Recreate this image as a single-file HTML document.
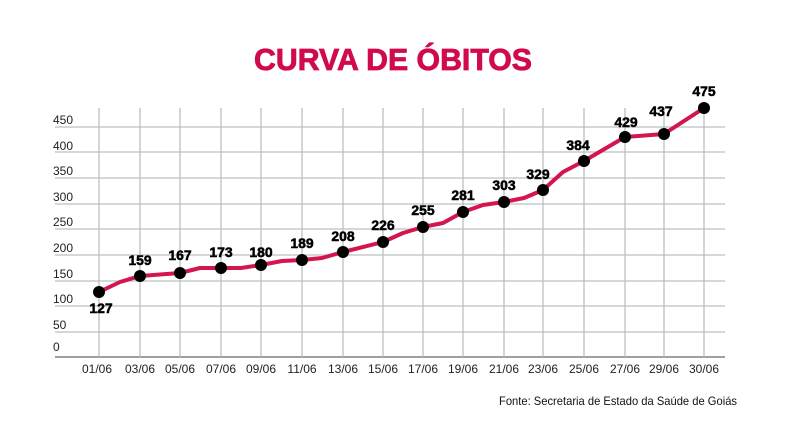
<!DOCTYPE html>
<html><head><meta charset="utf-8"><style>
html,body{margin:0;padding:0;background:#fff;width:801px;height:434px;overflow:hidden}
svg{display:block}
text{font-family:"Liberation Sans","DejaVu Sans",sans-serif}
</style></head><body>
<svg width="801" height="434" viewBox="0 0 801 434">
<text x="254" y="70" font-size="31" font-weight="bold" fill="#d10a4c" stroke="#d10a4c" stroke-width="0.8" textLength="278" lengthAdjust="spacingAndGlyphs">CURVA DE ÓBITOS</text>
<g stroke="#b9c0c0" stroke-width="1.3">
<line x1="55" x2="725" y1="127" y2="127"/><line x1="55" x2="725" y1="152" y2="152"/>
<line x1="55" x2="725" y1="178" y2="178"/><line x1="55" x2="725" y1="204" y2="204"/>
<line x1="55" x2="725" y1="229" y2="229"/><line x1="55" x2="725" y1="255" y2="255"/>
<line x1="55" x2="725" y1="281" y2="281"/><line x1="55" x2="725" y1="306" y2="306"/>
<line x1="55" x2="725" y1="332" y2="332"/>
</g>
<line x1="55" x2="725" y1="357" y2="357" stroke="#666" stroke-width="1.3"/>
<g stroke="#b9c0c0" stroke-width="1.3">
<line x1="99" x2="99" y1="108" y2="357"/><line x1="140" x2="140" y1="108" y2="357"/>
<line x1="180" x2="180" y1="108" y2="357"/><line x1="221" x2="221" y1="108" y2="357"/>
<line x1="261" x2="261" y1="108" y2="357"/><line x1="302" x2="302" y1="108" y2="357"/>
<line x1="343" x2="343" y1="108" y2="357"/><line x1="383" x2="383" y1="108" y2="357"/>
<line x1="423" x2="423" y1="108" y2="357"/><line x1="463" x2="463" y1="108" y2="357"/>
<line x1="504" x2="504" y1="108" y2="357"/><line x1="543" x2="543" y1="108" y2="357"/>
<line x1="584" x2="584" y1="108" y2="357"/><line x1="625" x2="625" y1="108" y2="357"/>
<line x1="664" x2="664" y1="108" y2="357"/><line x1="704" x2="704" y1="108" y2="357"/>
</g>
<g font-size="12" fill="#222">
<text x="53" y="124">450</text><text x="53" y="150">400</text><text x="53" y="175">350</text>
<text x="53" y="201">300</text><text x="53" y="226">250</text><text x="53" y="252">200</text>
<text x="53" y="278">150</text><text x="53" y="303">100</text><text x="53" y="329">50</text>
<text x="53" y="351">0</text>
</g>
<g font-size="12" fill="#222" text-anchor="middle">
<text x="97" y="373">01/06</text><text x="140" y="373">03/06</text><text x="180" y="373">05/06</text>
<text x="221" y="373">07/06</text><text x="261" y="373">09/06</text><text x="302" y="373">11/06</text>
<text x="343" y="373">13/06</text><text x="383" y="373">15/06</text><text x="423" y="373">17/06</text>
<text x="463" y="373">19/06</text><text x="504" y="373">21/06</text><text x="543" y="373">23/06</text>
<text x="584" y="373">25/06</text><text x="625" y="373">27/06</text><text x="664" y="373">29/06</text>
<text x="704" y="373">30/06</text>
</g>
<polyline fill="none" stroke="#d4164f" stroke-width="4" stroke-linejoin="round" stroke-linecap="round"
points="99,292 120,282 140,276 180,273 200,268 221,268 241,268 261,265 282,261 302,260 322,258 343,252 383,242 403,233 423,227 443,223 463,212 483,205 504,202 524,198 543,190 563,172 584,161 625,137 664,134 704,108"/>
<g fill="#000">
<circle cx="99" cy="292" r="6"/><circle cx="140" cy="276" r="6"/><circle cx="180" cy="273" r="6"/>
<circle cx="221" cy="268" r="6"/><circle cx="261" cy="265" r="6"/><circle cx="302" cy="260" r="6"/>
<circle cx="343" cy="252" r="6"/><circle cx="383" cy="242" r="6"/><circle cx="423" cy="227" r="6"/>
<circle cx="463" cy="212" r="6"/><circle cx="504" cy="202" r="6"/><circle cx="543" cy="190" r="6"/>
<circle cx="584" cy="161" r="6"/><circle cx="625" cy="137" r="6"/><circle cx="664" cy="134" r="6"/>
<circle cx="704" cy="108" r="6"/>
</g>
<g font-size="14" font-weight="bold" fill="#000" stroke="#000" stroke-width="0.5" text-anchor="middle">
<text x="101" y="313">127</text><text x="140" y="265">159</text><text x="180" y="260">167</text>
<text x="221" y="257">173</text><text x="261" y="257">180</text><text x="302" y="248">189</text>
<text x="343" y="241">208</text><text x="383" y="230">226</text><text x="423" y="215">255</text>
<text x="463" y="200">281</text><text x="504" y="190">303</text><text x="538" y="179">329</text>
<text x="578" y="150">384</text><text x="626" y="127">429</text><text x="661" y="116">437</text>
<text x="704" y="96">475</text>
</g>
<text x="499" y="405" font-size="12" fill="#111" textLength="238" lengthAdjust="spacingAndGlyphs">Fonte: Secretaria de Estado da Saúde de Goiás</text>
</svg>
</body></html>
